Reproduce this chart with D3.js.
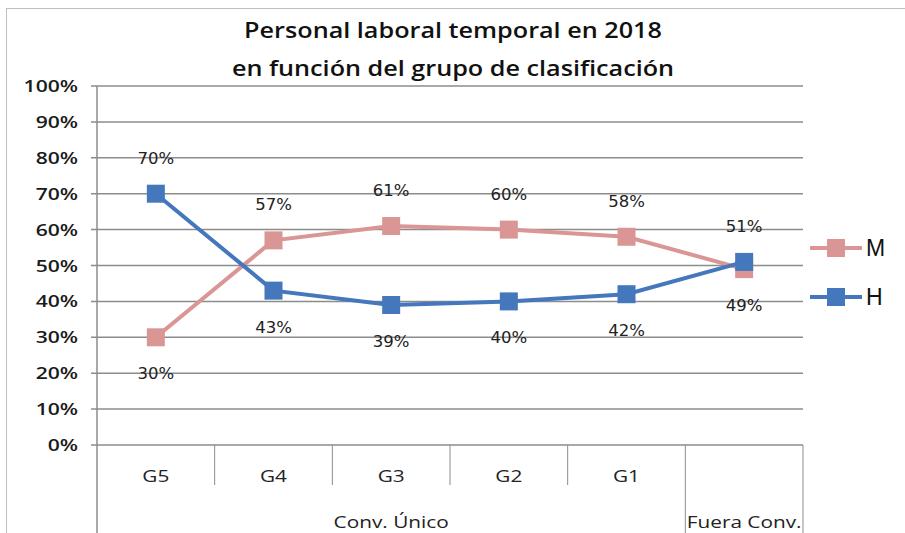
<!DOCTYPE html>
<html><head><meta charset="utf-8">
<script src="https://cdn.jsdelivr.net/npm/d3@7"></script>
<style>body{margin:0;background:#fff;}svg{display:block;}</style>
</head><body>
<svg id="c" width="905" height="533"></svg>
<script>
const categories = ["G5","G4","G3","G2","G1","Fuera"];
const groupLabels = ["Conv. Único","Fuera Conv."];
const groupSpans = [5,1];
const seriesM = [30,57,61,60,58,49];
const seriesH = [70,43,39,40,42,51];
const labelsM = ["30%","57%","61%","60%","58%","49%"];
const labelsH = ["70%","43%","39%","40%","42%","51%"];
const yTicks = [0,10,20,30,40,50,60,70,80,90,100];
const seriesNames = ["M","H"];
const colors = {M:"#D99694", H:"#4477BC"};

const svg = d3.select("#c");
const L=97, R=803, T=86, B=445;
const x = d3.scaleBand().domain(categories).range([L,R]).padding(0);
const y = d3.scaleLinear().domain([0,100]).range([B,T]);

// text helper with horizontal stretch (narrow-font look)
function stext(parent, px, py, str, opts){
  const sx = opts.sx || 1;
  return parent.append("text")
    .attr("transform", `translate(${px},${py}) scale(${sx},1)`)
    .attr("text-anchor", opts.anchor || "middle")
    .attr("font-family", opts.family || "Open Sans, sans-serif")
    .attr("font-size", opts.size || 15)
    .attr("font-weight", opts.weight || "normal")
    .attr("fill", opts.fill || "#222")
    .text(str);
}

// outer border
svg.append("rect").attr("x",6.5).attr("y",8.5).attr("width",940).attr("height",560)
  .attr("fill","none").attr("stroke","#bfbfbf").attr("stroke-width",1);

// title
stext(svg, 453, 38, "Personal laboral temporal en 2018", {size:21, weight:"600", sx:1.2, fill:"#111"});
stext(svg, 453, 76, "en función del grupo de clasificación", {size:21, weight:"600", sx:1.2, fill:"#111"});

// gridlines
svg.append("g").selectAll("line").data(yTicks).join("line")
  .attr("x1",L-6).attr("x2",R).attr("y1",d=>y(d)).attr("y2",d=>y(d))
  .attr("stroke","#8c8c8c").attr("stroke-width",1.5);

// y axis labels
const yl = svg.append("g");
yTicks.forEach(d=>{
  stext(yl, L-19, y(d)+6, d+"%", {anchor:"end", size:16.5, weight:"600", sx:1.28, fill:"#1a1a1a"});
});

// left axis line
svg.append("line").attr("x1",L).attr("x2",L).attr("y1",T).attr("y2",533).attr("stroke","#8c8c8c").attr("stroke-width",1.5);

// category dividers and labels
const bw = x.bandwidth();
categories.forEach((c,i)=>{
  const xr = x(c)+bw;
  const full = (i>=4);
  svg.append("line").attr("x1",xr).attr("x2",xr).attr("y1",B).attr("y2",full?533:485)
    .attr("stroke","#8c8c8c").attr("stroke-width",1);
  if(c!=="Fuera"){
    stext(svg, x(c)+bw/2, 482, c, {size:16, sx:1.3});
  }
});
// group labels
let start=0;
groupLabels.forEach((g,i)=>{
  const x0 = x(categories[start]), x1 = x(categories[start+groupSpans[i]-1])+bw;
  stext(svg, (x0+x1)/2, 528, g, {size:16, sx:1.3});
  start+=groupSpans[i];
});

const cx = c=>x(c)+bw/2;
function drawSeries(vals, col){
  svg.append("path").datum(vals).attr("fill","none").attr("stroke",col).attr("stroke-width",4)
    .attr("d", d3.line().x((d,i)=>cx(categories[i])).y(d=>y(d)));
  svg.append("g").selectAll("rect").data(vals).join("rect")
    .attr("x",(d,i)=>cx(categories[i])-9).attr("y",d=>y(d)-9).attr("width",18).attr("height",18).attr("fill",col);
}
drawSeries(seriesM, colors.M);
drawSeries(seriesH, colors.H);

function drawLabels(vals, other, labels){
  svg.append("g").selectAll("text").data(vals).join("text")
    .attr("x",(d,i)=>cx(categories[i])).attr("y",(d,i)=> d>other[i] ? y(d)-30 : y(d)+42)
    .attr("text-anchor","middle").attr("font-family","DejaVu Sans, sans-serif").attr("font-size",16.5)
    .attr("fill","#222").text((d,i)=>labels[i]);
}
drawLabels(seriesM, seriesH, labelsM);
drawLabels(seriesH, seriesM, labelsH);

// legend
seriesNames.forEach((s,i)=>{
  const ly = 248 + i*49;
  const g = svg.append("g");
  g.append("line").attr("x1",810).attr("x2",862).attr("y1",ly).attr("y2",ly).attr("stroke",colors[s]).attr("stroke-width",4);
  g.append("rect").attr("x",827).attr("y",ly-9).attr("width",18).attr("height",18).attr("fill",colors[s]);
  g.append("text").attr("x",866).attr("y",ly+8).attr("font-family","Liberation Sans, sans-serif").attr("font-size",23).attr("fill","#111").text(s);
});
</script>
</body></html>
